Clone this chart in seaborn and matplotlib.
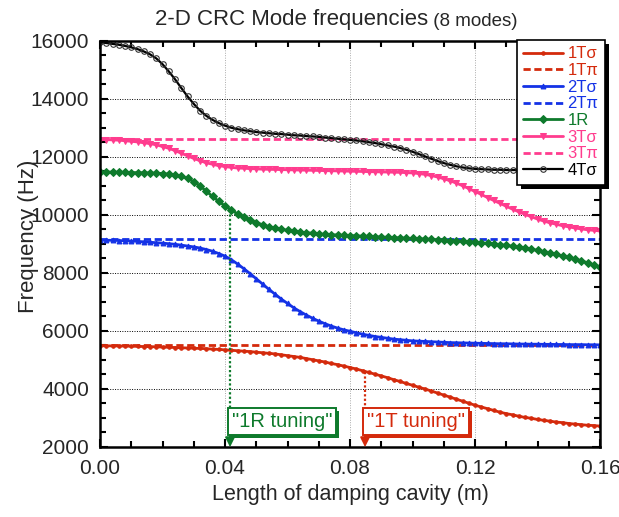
import numpy as np
import pandas as pd
import matplotlib.pyplot as plt
import matplotlib.patheffects as pe
from matplotlib.ticker import MultipleLocator
import seaborn as sns

# longitud de la cavidad (m), paso de 0.002
longitud = np.round(np.arange(81) * 0.002, 3)

# frecuencias (Hz)
f_1Ts = [5490, 5490, 5485, 5485, 5480, 5475, 5470, 5465, 5460, 5455,
         5445, 5440, 5430, 5420, 5415, 5405, 5400, 5390, 5375, 5365,
         5350, 5335, 5320, 5305, 5290, 5270, 5250, 5230, 5210, 5180,
         5150, 5120, 5090, 5050, 5010, 4970, 4930, 4880, 4840, 4790,
         4740, 4690, 4630, 4570, 4510, 4450, 4390, 4320, 4260, 4190,
         4130, 4060, 4000, 3930, 3860, 3790, 3720, 3650, 3580, 3510,
         3440, 3380, 3320, 3260, 3200, 3150, 3110, 3060, 3020, 2990,
         2950, 2920, 2890, 2860, 2840, 2810, 2790, 2770, 2750, 2740, 2720]
f_1Tp = 5500

f_2Ts = [9130, 9130, 9125, 9120, 9110, 9100, 9090, 9075, 9060, 9045,
         9030, 9010, 8990, 8960, 8930, 8900, 8860, 8810, 8750, 8670,
         8580, 8460, 8310, 8150, 7980, 7800, 7620, 7440, 7270, 7100,
         6950, 6800, 6670, 6550, 6440, 6340, 6250, 6170, 6100, 6040,
         5990, 5940, 5890, 5850, 5810, 5780, 5750, 5720, 5700, 5680,
         5660, 5650, 5640, 5630, 5620, 5610, 5600, 5595, 5590, 5585,
         5580, 5575, 5570, 5565, 5560, 5560, 5555, 5550, 5550, 5545,
         5545, 5540, 5540, 5535, 5535, 5530, 5530, 5530, 5525, 5525, 5520]
f_2Tp = 9160

f_1R = [11480, 11480, 11480, 11475, 11470, 11465, 11460, 11455, 11450, 11440,
        11430, 11410, 11380, 11330, 11260, 11150, 11000, 10820, 10640, 10470,
        10310, 10170, 10040, 9930, 9830, 9740, 9660, 9600, 9550, 9510,
        9470, 9440, 9410, 9390, 9370, 9350, 9330, 9320, 9310, 9300,
        9290, 9280, 9270, 9260, 9250, 9240, 9230, 9220, 9210, 9200,
        9190, 9180, 9170, 9160, 9150, 9140, 9120, 9110, 9090, 9080,
        9060, 9040, 9020, 9000, 8980, 8950, 8920, 8890, 8860, 8820,
        8780, 8740, 8690, 8640, 8590, 8540, 8480, 8420, 8350, 8280, 8200]

f_3Ts = [12600, 12600, 12590, 12580, 12560, 12540, 12520, 12490, 12460, 12420,
         12360, 12300, 12220, 12130, 12040, 11950, 11870, 11800, 11750, 11700,
         11670, 11640, 11620, 11610, 11600, 11590, 11580, 11575, 11570, 11565,
         11560, 11555, 11550, 11545, 11540, 11535, 11530, 11525, 11520, 11515,
         11510, 11505, 11500, 11495, 11490, 11485, 11480, 11475, 11470, 11460,
         11450, 11430, 11400, 11360, 11310, 11250, 11180, 11100, 11010, 10910,
         10810, 10710, 10600, 10500, 10400, 10300, 10200, 10110, 10020, 9940,
         9860, 9790, 9730, 9680, 9630, 9590, 9550, 9520, 9490, 9470, 9450]
f_3Tp = 12610

# 4Tσ solo hasta 0.134 (detras de la leyenda)
f_4Ts = [15950, 15930, 15900, 15870, 15830, 15780, 15720, 15640, 15540, 15400,
         15200, 14950, 14680, 14380, 14090, 13830, 13600, 13420, 13280, 13170,
         13080, 13010, 12960, 12920, 12890, 12860, 12840, 12820, 12800, 12790,
         12770, 12750, 12740, 12720, 12710, 12690, 12670, 12650, 12630, 12610,
         12590, 12570, 12540, 12510, 12480, 12440, 12400, 12360, 12310, 12250,
         12180, 12100, 12020, 11940, 11860, 11790, 11730, 11680, 11640, 11610,
         11590, 11580, 11570, 11560, 11560, 11550, 11550, 11550]

# puntos de sintonia (x, frecuencia de arranque de la flecha)
sint_1R = (0.0416, 10170)
sint_1T = (0.0848, 4600)

rojo = '#d42a0c'
azul = '#1432e6'
verde = '#0e7a2c'
rosa = '#ff3c8e'

sns.set_style('ticks')
plt.rcParams['font.family'] = ['Liberation Sans', 'DejaVu Sans']

fig = plt.figure(figsize=(6.19, 5.17), dpi=100)
ax = fig.add_axes([0.1616, 0.1354, 0.8078, 0.7853])

extremos = [longitud[0], longitud[-1]]
lw = 2.0
guiones = (2.6, 1.3)

sns.lineplot(x=longitud, y=f_1Ts, ax=ax, color=rojo, lw=lw, marker='o', ms=2.5,
             mec=rojo, label='1Tσ')
sns.lineplot(x=extremos, y=[f_1Tp] * 2, ax=ax, color=rojo, lw=lw, dashes=guiones,
             label='1Tπ')
sns.lineplot(x=longitud, y=f_2Ts, ax=ax, color=azul, lw=lw, marker='^', ms=3.5,
             mec=azul, label='2Tσ')
sns.lineplot(x=extremos, y=[f_2Tp] * 2, ax=ax, color=azul, lw=lw, dashes=guiones,
             label='2Tπ')
sns.lineplot(x=longitud, y=f_1R, ax=ax, color=verde, lw=lw, marker='D', ms=4.5,
             mec=verde, label='1R')
sns.lineplot(x=longitud, y=f_3Ts, ax=ax, color=rosa, lw=lw, marker='v', ms=4,
             mec=rosa, label='3Tσ')
sns.lineplot(x=extremos, y=[f_3Tp] * 2, ax=ax, color=rosa, lw=lw, dashes=guiones,
             label='3Tπ')
sns.lineplot(x=longitud[:len(f_4Ts)], y=f_4Ts, ax=ax, color='black', lw=1.6,
             marker='o', ms=4, mfc='none', mec='#333333', mew=0.8, label='4Tσ')

# flechas de sintonia
for (xs, ys), col, txt in [(sint_1R, verde, '"1R tuning"'), (sint_1T, rojo, '"1T tuning"')]:
    ax.plot([xs, xs], [ys, 2150], color=col, lw=1.6, ls=(0, (1, 1)))
    ax.annotate('', xy=(xs, 1900), xytext=(xs, 2500), annotation_clip=False,
                arrowprops=dict(arrowstyle='-|>', color=col, lw=1.4,
                                mutation_scale=14))
    ax.text(xs + 0.0006, 2870, txt, color=col, fontsize=14.5, ha='left', va='center',
            bbox=dict(boxstyle='square,pad=0.2', fc='white', ec=col, lw=1.4,
                      path_effects=[pe.SimplePatchShadow(offset=(2, -2),
                                                         shadow_rgbFace=col, alpha=1),
                                    pe.Normal()]))

ax.set_xlim(0, 0.16)
ax.set_ylim(2000, 16000)
ax.xaxis.set_major_locator(MultipleLocator(0.04))
ax.xaxis.set_minor_locator(MultipleLocator(0.01))
ax.yaxis.set_major_locator(MultipleLocator(2000))
ax.yaxis.set_minor_locator(MultipleLocator(500))
ax.xaxis.set_major_formatter(plt.FormatStrFormatter('%.2f'))
ax.tick_params(which='both', direction='in', top=True, right=True, labelsize=15,
               width=1.5, color='black')
ax.tick_params(which='major', length=6)
ax.tick_params(axis='x', which='major', pad=9)
ax.tick_params(axis='y', which='major', pad=8)
ax.tick_params(which='minor', length=4)
for s in ax.spines.values():
    s.set_linewidth(1.8)
    s.set_color('black')

ax.yaxis.grid(True, which='major', color='black', ls=(0, (1, 1.5)), lw=0.7)
ax.xaxis.grid(True, which='major', color='#aaaaaa', ls=(0, (1, 1.5)), lw=0.7)

ax.set_xlabel('Length of damping cavity (m)', fontsize=15.5, labelpad=4)
ax.set_ylabel('Frequency (Hz)', fontsize=16)
ax.yaxis.set_label_coords(-0.122, 0.52)

# titulo en dos tamaños
t1 = fig.text(0.25, 0.963, '2-D CRC Mode frequencies', fontsize=16, va='center')
ax.annotate(' (8 modes)', xy=(1, 0), xycoords=t1, va='bottom', fontsize=13.5)

leg = ax.legend(loc='upper right', bbox_to_anchor=(1.01, 1.003), borderaxespad=0,
                fontsize=12, frameon=True, fancybox=False, framealpha=1,
                edgecolor='black', handlelength=2.4, handletextpad=0.25,
                labelspacing=0.1, borderpad=0.4)
leg.get_frame().set_linewidth(1.2)
leg.get_frame().set_path_effects([pe.SimplePatchShadow(offset=(3, -3),
                                                       shadow_rgbFace='black', alpha=1),
                                  pe.Normal()])
for texto, linea in zip(leg.get_texts(), leg.get_lines()):
    texto.set_color(linea.get_color())
leg.set_zorder(10)

fig.savefig('out.png', dpi=100)
